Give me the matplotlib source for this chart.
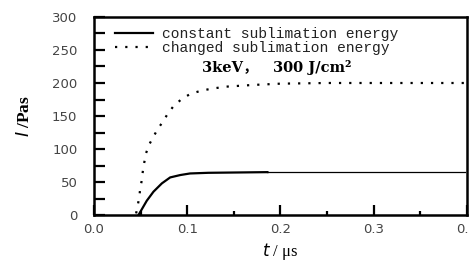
import matplotlib
matplotlib.use("Agg")
import matplotlib.pyplot as plt
from matplotlib.ticker import MultipleLocator

# constant sublimation energy (solid)
t_const = [0.0477, 0.0566, 0.0638, 0.0728, 0.0817, 0.0925, 0.103, 0.1226, 0.186]
i_const = [0, 21.7, 35.4, 48, 57, 60.6, 63, 64, 65]
t_const_tail = [0.186, 0.25, 0.3, 0.35, 0.398]
i_const_tail = [65, 65, 65, 65, 65]

# changed sublimation energy (dotted)
t_changed = [0.0452, 0.0487, 0.0495, 0.0509, 0.053, 0.0559, 0.0595, 0.0638, 0.0681,
             0.0739, 0.0789, 0.0853, 0.0943, 0.104, 0.117, 0.129, 0.142, 0.17, 0.2,
             0.25, 0.3, 0.35, 0.398]
i_changed = [2.5, 27.8, 40, 50, 73, 94, 107.6, 118.7, 129.8, 141.4, 153, 165, 176,
             184, 189, 192, 194.5, 197, 199, 200, 200, 200, 200]

xticks = [0.0, 0.1, 0.2, 0.3, 0.4]
xtick_labels = ["0.0", "0.1", "0.2", "0.3", "0.4"]
yticks = [0, 50, 100, 150, 200, 250, 300]

fig = plt.figure(figsize=(4.69, 2.61), dpi=100)
ax = fig.add_axes([0.2004, 0.176, 0.7953, 0.759])

ax.plot(t_const, i_const, color="black", lw=1.6, label="constant sublimation energy")
ax.plot(t_const_tail, i_const_tail, color="black", lw=0.9)
ax.plot(t_changed, i_changed, color="black", lw=1.6, linestyle=(0, (1, 3.6)),
        dash_capstyle="butt", label="changed sublimation energy")

ax.set_xlim(0, 0.4)
ax.set_ylim(0, 300)
ax.set_xticks(xticks)
ax.set_xticklabels(xtick_labels)
ax.set_yticks(yticks)
ax.xaxis.set_minor_locator(MultipleLocator(0.05))
ax.yaxis.set_minor_locator(MultipleLocator(25))
ax.tick_params(which="both", direction="in", top=False, right=False, width=1.6,
               labelsize=9.5, labelcolor="#444444")
ax.tick_params(axis="y", which="both", length=8, pad=12)
ax.tick_params(axis="x", which="major", length=7, pad=6)
ax.tick_params(axis="x", which="minor", length=3)
for s in ax.spines.values():
    s.set_linewidth(1.8)

leg = ax.legend(loc="upper left", frameon=False, prop={"family": "Liberation Mono", "size": 10.5},
                handlelength=2.6, borderaxespad=0, borderpad=0, labelspacing=0.0,
                handletextpad=0.6, bbox_to_anchor=(0.056, 0.95))
for txt in leg.get_texts():
    txt.set_color("#222222")

ax.text(0.29, 0.722, "3keV，   300 J/cm²", transform=ax.transAxes, fontsize=10.5,
        fontweight="bold", va="baseline", family=["DejaVu Serif", "Noto Sans CJK SC"])

ax.set_ylabel("$\\mathbf{\\mathit{I}}$ /Pas", family="Liberation Serif", fontweight="bold",
              fontsize=12.5, labelpad=14)
ax.set_xlabel("$\\mathit{t}$ / μs", family="Liberation Serif", fontsize=12, labelpad=3)

fig.savefig("out.png", dpi=100)
